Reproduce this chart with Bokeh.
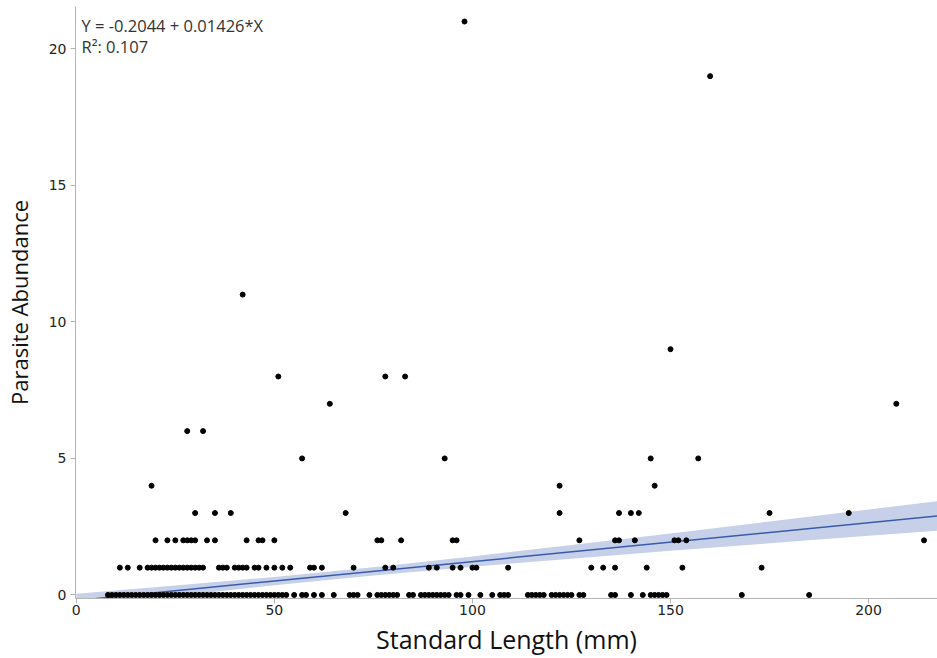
import numpy as np
from bokeh.plotting import figure
from bokeh.models import ColumnDataSource, Label, FixedTicker, Range1d
from bokeh.embed import file_html
from bokeh.resources import INLINE

# ---- data (x = standard length mm, grouped by abundance) ----
x_ab0 = list(range(8, 54)) + [55, 57, 58, 60, 62, 65, 69, 70, 71, 74, 76, 77, 78, 79, 80, 81,
                              84, 85, 87, 88, 89, 90, 91, 92, 93, 94, 96, 97, 99, 102, 105, 107,
                              108, 109, 114, 115, 116, 117, 118, 120, 121, 122, 123, 124, 125,
                              127, 128, 135, 136, 140, 143, 145, 146, 147, 148, 149, 168, 185]
x_ab1 = [11, 13, 16] + list(range(18, 33)) + [36, 37, 38, 40, 41, 42, 43, 45, 46, 48, 50, 52, 54,
                                              59, 60, 62, 70, 78, 80, 89, 91, 95, 97, 100, 101,
                                              109, 130, 133, 136, 144, 153, 173]
x_ab2 = [20, 23, 25, 27, 28, 29, 30, 33, 35, 43, 46, 47, 50, 76, 77, 82, 95, 96, 127, 136, 137,
         141, 151, 152, 154, 214]
x_ab3 = [30, 35, 39, 68, 122, 137, 140, 142, 175, 195]
x_ab4 = [19, 122, 146]
x_ab5 = [57, 93, 145, 157]
x_ab6 = [28, 32]
x_ab7 = [64, 207]
x_ab8 = [51, 78, 83]
x_ab9 = [150]
x_ab11 = [42]
x_ab19 = [160]
x_ab21 = [98]

groups = [(0, x_ab0), (1, x_ab1), (2, x_ab2), (3, x_ab3), (4, x_ab4), (5, x_ab5), (6, x_ab6),
          (7, x_ab7), (8, x_ab8), (9, x_ab9), (11, x_ab11), (19, x_ab19), (21, x_ab21)]
xs = []
ys = []
for yv, xl in groups:
    xs += xl
    ys += [yv] * len(xl)

# regression line (from the chart's equation) and 95% band half-widths
intercept = -0.2044
slope = 0.01426
equation_text = "Y = -0.2044 + 0.01426*X"
r2_text = "R²: 0.107"
band_x = [0, 25, 50, 75, 100, 125, 150, 175, 200, 217.4]
band_half = [0.25, 0.19, 0.15, 0.15, 0.19, 0.25, 0.32, 0.40, 0.48, 0.54]

x_ticks = [0, 50, 100, 150, 200]
y_ticks = [0, 5, 10, 15, 20]

line_x = [0, 217.4]
line_y = [intercept + slope * v for v in line_x]
band_mid = [intercept + slope * v for v in band_x]
band_lo = [m - h for m, h in zip(band_mid, band_half)]
band_hi = [m + h for m, h in zip(band_mid, band_half)]

FONT = "Open Sans"
TICKFONT = "DejaVu Sans"

p = figure(width=937, height=658, output_backend="svg", toolbar_location=None,
           x_range=Range1d(-0.2, 217.4), y_range=Range1d(-0.13, 21.55),
           min_border_left=74, min_border_right=0, min_border_top=6, min_border_bottom=60)
p.outline_line_color = None
p.grid.visible = False
p.background_fill_color = "white"

band = ColumnDataSource(dict(x=band_x, lo=band_lo, hi=band_hi))
p.varea(x="x", y1="lo", y2="hi", source=band, fill_color="#c6d0e8", fill_alpha=1.0)
p.line(line_x, line_y, line_color="#3a5aab", line_width=1.5)

pts = ColumnDataSource(dict(x=xs, y=ys))
p.scatter(x="x", y="y", source=pts, size=5, fill_color="black", line_color="black")

for ax in (p.xaxis[0], p.yaxis[0]):
    ax.axis_line_color = "#b4b4b4"
    ax.major_tick_line_color = "#b4b4b4"
    ax.minor_tick_line_color = None
    ax.major_tick_out = 5
    ax.major_tick_in = 0
    ax.major_label_text_font = TICKFONT
    ax.major_label_text_font_size = "14px"
    ax.major_label_text_color = "#222222"
    ax.axis_label_text_font = FONT
    ax.axis_label_text_font_style = "normal"
    ax.axis_label_text_color = "#111111"

p.xaxis.axis_label_text_font_size = "25px"
p.yaxis.axis_label_text_font_size = "22px"
p.xaxis.ticker = FixedTicker(ticks=x_ticks)
p.yaxis.ticker = FixedTicker(ticks=y_ticks)
p.xaxis.axis_label = "Standard Length (mm)"
p.yaxis.axis_label = "Parasite Abundance"
p.xaxis.major_label_standoff = 1
p.xaxis.axis_label_standoff = 4
p.yaxis.major_label_standoff = 4
p.yaxis.axis_label_standoff = 12

p.add_layout(Label(x=6, y=573, x_units="screen", y_units="screen", text=equation_text,
                   text_font=FONT, text_font_size="16.5px", text_color="#333333",
                   text_baseline="middle"))
p.add_layout(Label(x=6, y=552, x_units="screen", y_units="screen", text=r2_text,
                   text_font=FONT, text_font_size="16.5px", text_color="#333333",
                   text_baseline="middle"))

open("out.html", "w").write(file_html(p, INLINE))
